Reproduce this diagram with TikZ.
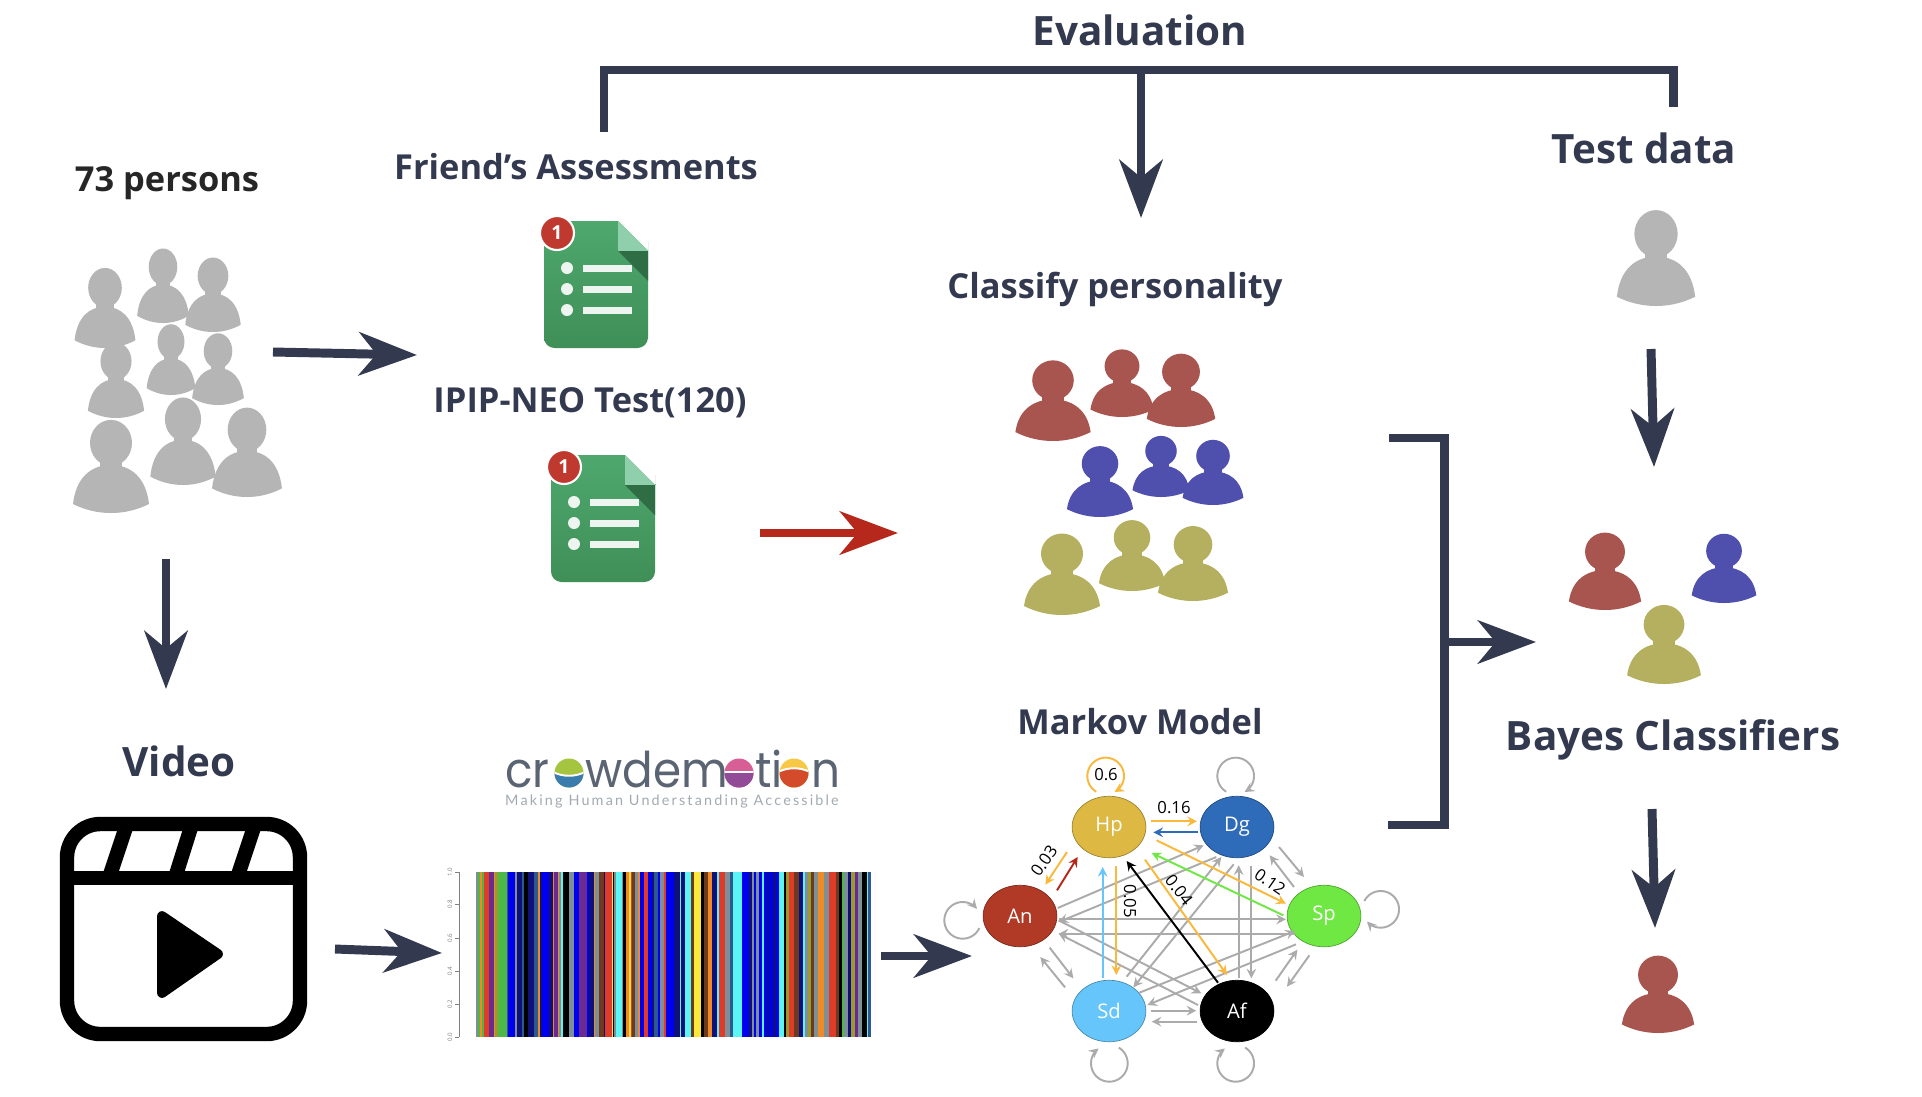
\documentclass[tikz,border=0pt]{standalone}
\usepackage{fontspec}
\setmainfont{Open Sans}
\newfontfamily\logofont{Poppins}
\newfontfamily\tagfont[LetterSpace=15]{Lato}
\usetikzlibrary{arrows.meta, shapes.geometric, calc}
\definecolor{inkdark}{HTML}{333A50}
\definecolor{inkred}{HTML}{B5281B}
\definecolor{persongray}{HTML}{B4B5B4}
\definecolor{personred}{HTML}{A8544F}
\definecolor{personblue}{HTML}{4F50AE}
\definecolor{personolive}{HTML}{B5B060}
\definecolor{edgegray}{HTML}{ABABAB}
\definecolor{edgeorange}{HTML}{FAB93C}
\definecolor{logogray}{HTML}{5A6472}
\definecolor{stateHp}{HTML}{DDB944}
\definecolor{stateDg}{HTML}{2E6BB8}
\definecolor{stateAn}{HTML}{B03A25}
\definecolor{stateSp}{HTML}{70E843}
\definecolor{stateSd}{HTML}{66C5FA}
\definecolor{formtop}{HTML}{4EA86E}
\definecolor{formbot}{HTML}{3F8F57}
\definecolor{formfold}{HTML}{8FCFAC}
\definecolor{formshade}{HTML}{2F6E45}
\definecolor{formbar}{HTML}{EEF5F0}
\definecolor{badgered}{HTML}{C0392F}
\definecolor{ballgreen}{HTML}{A5C43F}
\definecolor{ballblue}{HTML}{3A7CAE}
\definecolor{ballpink}{HTML}{D85E96}
\definecolor{ballpurple}{HTML}{924B96}
\definecolor{ballyellow}{HTML}{F6C845}
\definecolor{ballrust}{HTML}{D34B2A}
\definecolor{bL}{HTML}{0000F0}
\definecolor{nV}{HTML}{10107A}
\definecolor{kB}{HTML}{000000}
\definecolor{rD}{HTML}{E03A28}
\definecolor{cY}{HTML}{5CF5F5}
\definecolor{yL}{HTML}{FBE83A}
\definecolor{oR}{HTML}{F08A24}
\definecolor{gN}{HTML}{4DB848}
\definecolor{gY}{HTML}{7F8F98}
\definecolor{pU}{HTML}{6A2A90}
\definecolor{bR}{HTML}{6E3A1E}
\definecolor{tL}{HTML}{2A5A90}
\definecolor{oL}{HTML}{9A9A30}
\tikzset{
  bigarrow/.style={-{Stealth[length=33pt,width=24.5pt,inset=10pt]}, inkdark, line width=5.1pt},
  bracketline/.style={inkdark, line width=5.1pt, line join=miter},
  title/.style={inkdark, font=\fontsize{19.6}{22}\selectfont\bfseries, inner sep=0pt},
  bigtitle/.style={title, font=\fontsize{23}{26}\selectfont\bfseries},
  statenode/.style={ellipse, draw=#1!70!black, fill=#1, minimum width=42pt, minimum height=35pt, inner sep=0pt,
    text=white, font=\fontsize{11.5}{13}\selectfont},
  weight/.style={black, font=\fontsize{9.5}{11}\selectfont, inner sep=0pt},
  graygo/.style={-{Stealth[length=5.5pt,width=5.5pt,inset=2pt]}, edgegray, line width=1.1pt},
  colorgo/.style={-{Stealth[length=5.5pt,width=5.5pt,inset=2pt]}, line width=1.1pt},
  clipline/.style={black, line width=8.2pt},
  logotext/.style={logogray, font=\logofont\fontsize{28}{30}\selectfont, anchor=base west, inner sep=0pt, xscale=.92},
  person/.pic={
    \fill[pic actions] (-38,-9) .. controls (-35,-#1*0.74) and (-20,-#1) .. (0,-#1)
      .. controls (20,-#1) and (35,-#1*0.74) .. (38,-9)
      .. controls (14,3) and (-14,3) .. cycle;
    \fill[pic actions] (-11,-#1-7) rectangle (11,-#1+7);
    \fill[pic actions] (0,-#1*1.46) ellipse [x radius=21, y radius=#1*0.48];
  },
  formicon/.pic={
    \shade[top color=formtop, bottom color=formbot, rounded corners=6pt]
      (0,60) -- (0,127) -- (104,127) -- (104,60) -- (104,31) [sharp corners] -- (104,30) -- (74,0) -- (0,0) [rounded corners=6pt] -- cycle;
    \fill[formfold] (74,0) -- (104,30) -- (74,30) -- cycle;
    \fill[formshade] (74,30) -- (104,30) -- (104,60) -- cycle;
    \foreach \rowy in {47,68,89} {
      \fill[formbar] (23,\rowy) circle [radius=6];
      \fill[formbar] (39,\rowy-3.5) rectangle (88,\rowy+3.5);
    }
    \filldraw[white, line width=1.2pt, fill=badgered] (13,12) circle [radius=17];
    \node[white, font=\fontsize{11}{12}\selectfont\bfseries, inner sep=0pt] at (13,12) {1};
  }
}
\newcommand{\logoball}[4]{%
  \begin{scope}
    \clip (#1,773) circle [radius=14.5];
    \fill[#2] (#1-16,757) rectangle (#1+16,789);
    \fill[#3] (#1-16,772) .. controls (#1-6,772-#4) and (#1+6,772-#4) .. (#1+16,772) -- (#1+16,789) -- (#1-16,789) -- cycle;
    \draw[white, line width=1.1pt] (#1-16,772) .. controls (#1-6,772-#4) and (#1+6,772-#4) .. (#1+16,772);
  \end{scope}}
\begin{document}
\begin{tikzpicture}[x=0.02cm, y=-0.02cm]
\useasboundingbox (0,0) rectangle (1922,1096);
\fill[white] (0,0) rectangle (1922,1096);

\node[bigtitle] (evaltitle) at (1140,30) {Evaluation};
\node[title, text=black!85] (crowdtitle) at (167,183) {73 persons};
\node[title] (friendtitle) at (576,167) {Friend’s Assessments};
\node[title] (ipiptitle) at (590,403) {IPIP-NEO Test(120)};
\node[bigtitle] (testtitle) at (1644,148) {Test data};
\node[title] (classifytitle) at (1115,289) {Classify personality};
\node[bigtitle] (videotitle) at (179,761) {Video};
\node[title] (markovtitle) at (1140,722) {Markov Model};
\node[bigtitle] (bayestitle) at (1673,740) {Bayes Classifiers};

\foreach \px/\py/\sx/\sy in {105/348/.8/.86, 163/323/.68/.8, 213/332/.73/.8, 116/418/.74/.81, 171/395/.64/.76,
  218/405/.68/.77, 111/513/1/1, 183/485/.86/.94, 247/497/.92/.96, 1656/306/1.03/1.03}
  \pic[fill=persongray, xscale=\sx, yscale=\sy] at (\px,\py) {person=48};

\foreach \px/\py/\ps/\pc in {1053/441/.99/personred, 1122/417/.83/personred, 1181/427/.9/personred,
  1100/517/.87/personblue, 1161/497/.75/personblue, 1213/505/.8/personblue,
  1062/615/1/personolive, 1132/591/.87/personolive, 1193/601/.92/personolive,
  1605/610/.95/personred, 1724/603/.85/personblue, 1664/684/.97/personolive, 1658/1033/.95/personred}
  \pic[fill=\pc, scale=\ps] at (\px,\py) {person=42};

\pic at (544,221) {formicon};
\pic at (551,455) {formicon};

\draw[black, line width=8.2pt, rounded corners=19pt] (67,824) rectangle (300,1034);
\draw[clipline] (67,878) -- (300,878);
\draw[clipline] (109,878) -- (127,824);
\draw[clipline] (175,878) -- (192,824);
\draw[clipline] (237,878) -- (255,824);
\filldraw[black, line width=5.6pt, line join=round] (162,916) -- (162,993) -- (218,954) -- cycle;

\node[logotext] (logocr) at (505,787) {cr};
\node[logotext] (logowdem) at (585,787) {wdem};
\node[logotext] (logoti) at (755,787) {ti};
\node[logotext] (logon) at (811,787) {n};
\logoball{569}{ballgreen}{ballblue}{-5}
\logoball{739}{ballpink}{ballpurple}{0}
\logoball{794}{ballyellow}{ballrust}{5}
\node[text=logogray!55, font=\tagfont\fontsize{8.2}{10}\selectfont, inner sep=0pt] (logotag) at (672,801) {Making Human Understanding Accessible};

\foreach \c/\w [remember=\xb as \xa (initially 476), evaluate=\w as \xb using \xa+\w/3] in {
  gY/6, gN/6, oR/6, gN/6, rD/16, pU/14, oR/4, oL/8, gN/26, tL/4, bL/22, gY/6, nV/14, tL/5, kB/13, nV/17,
  tL/12, oR/8, nV/5, bL/22, nV/11, oR/2, pU/13, oR/4, gY/6, cY/4, kB/18, gY/15, bL/17, pU/23, bL/5, nV/15,
  oR/5, gY/10, bR/15, nV/5, rD/20, yL/3, kB/4, gY/6, cY/17, gY/3, kB/10, oR/8, yL/6, rD/4, bR/8, gY/8,
  oR/6, bL/12, rD/12, bL/13, nV/7, tL/10, bL/8, gY/12, rD/6, bL/24, nV/16, cY/4, nV/13, cY/17, bR/10, yL/20,
  kB/10, bR/10, oR/12, nV/16, cY/5, rD/20, gY/13, tL/10, cY/27, bL/22, nV/7, gY/8, bL/6, gY/8, bL/8, cY/6,
  bL/10, nV/7, bL/10, nV/10, bL/10, cY/13, kB/7, oL/10, rD/15, bR/15, nV/10, cY/8, gY/7, oL/10, bR/10,
  gY/12, oR/16, gY/17, rD/20, bR/10, kB/7, gN/8, gY/12, nV/8, oL/12, pU/10, gY/10, kB/16, cY/4, tL/8}
  \fill[\c] (\xa,872) rectangle (\xb+.3,1037);
\draw[gray, line width=.3pt] (459,872) -- (459,1037);
\foreach \ty/\tl in {872/1.0, 904/0.8, 938/0.6, 971/0.4, 1004/0.2, 1037/0.0} {
  \draw[gray, line width=.3pt] (455,\ty) -- (459,\ty);
  \node[gray, rotate=90, font=\fontsize{3.5}{4}\selectfont, inner sep=0pt] at (450,\ty) {\tl};
}

\node[statenode=stateHp] (Hp) at (1109,827) {Hp};
\node[statenode=stateDg] (Dg) at (1237,827) {Dg};
\node[statenode=stateAn] (An) at (1020,916) {An};
\node[statenode=stateSp] (Sp) at (1324,916) {Sp};
\node[statenode=stateSd] (Sd) at (1109,1011) {Sd};
\node[statenode=black] (Af) at (1237,1011) {Af};

\begin{scope}[x=0.00667cm, y=-0.00667cm]
\foreach \a/\ax/\ay/\b/\bx/\by in {An/113/-24/Dg/-100/55, Dg/-62/90/An/116/18, An/116/10/Sp/-114/10, Sp/-87/53/An/116/53,
  An/116/13/Af/-107/-53, Af/-117/-18/An/116/53, An/89/95/Sd/-107/-98, Sd/-132/-71/An/61/123,
  Dg/126/60/Sp/-60/-117, Sp/-90/-87/Dg/98/85, Dg/-10/112/Sd/73/-71, Sd/53/-103/Dg/-47/90,
  Dg/43/116/Af/43/-98, Af/5/-98/Dg/5/115, Sp/-44/118/Af/150/-73, Af/116/-91/Sp/-80/101,
  Sd/91/-55/Sp/-87/45, Sp/-84/85/Sd/115/-18, Sd/125/-1/Af/-122/-1, Af/-119/32/Sd/128/32}
  \draw[graygo] ([shift={(\ax,\ay)}]\a.center) -- ([shift={(\bx,\by)}]\b.center);
\foreach \a/\ax/\ay/\b/\bx/\by/\c in {Hp/125/-17/Dg/-120/-17/edgeorange, Dg/-116/16/Hp/133/16/stateDg,
  Hp/-126/75/An/76/-94/edgeorange, An/111/-77/Hp/-94/90/inkred,
  Hp/143/40/Sp/-114/-37/edgeorange, Sp/-122/-2/Hp/128/78/stateSp,
  Hp/22/116/Sd/22/-108/edgeorange, Sd/-19/-99/Hp/-19/120/stateSd,
  Hp/108/98/Af/-30/-108/edgeorange, Af/-57/-85/Hp/53/102/black}
  \draw[colorgo, draw=\c] ([shift={(\ax,\ay)}]\a.center) -- ([shift={(\bx,\by)}]\b.center);
\foreach \a/\lx/\ly/\st/\en/\c in {Hp/-10/-153/121/421/edgeorange, Dg/-4/-153/121/421/edgegray, Sd/1/157/-59/234/edgegray,
  Af/-4/157/-59/234/edgegray, An/-172/13/25/321/edgegray, Sp/170/-20/207/498/edgegray}
  \draw[colorgo, draw=\c, shift={(\a.center)}, domain=\st:\en, samples=60] plot ({\lx+55*cos(\x)}, {\ly+55*sin(\x)});
\end{scope}

\node[weight] (wHpHp) at (1106,775) {0.6};
\node[weight] (wHpDg) at (1174,808) {0.16};
\node[weight, rotate=55] (wHpAn) at (1044,861) {0.03};
\node[weight, rotate=-90] (wHpSd) at (1130,901) {0.05};
\node[weight, rotate=-52] (wHpAf) at (1179,890) {0.04};
\node[weight, rotate=-35] (wHpSp) at (1270,882) {0.12};

\coordinate (crowdout) at (273,352);
\coordinate (formin) at (417,355);
\coordinate (formout) at (760,533);
\coordinate (classifyin) at (898,533);
\coordinate (crowddown) at (166,559);
\coordinate (clipin) at (166,689);
\coordinate (clipout) at (335,949);
\coordinate (barin) at (442,953);
\coordinate (barout) at (881,956);
\coordinate (statein) at (972,956);
\coordinate (evalleft) at (604,132);
\coordinate (evalcorner) at (604,70);
\coordinate (evalfar) at (1673,70);
\coordinate (evalright) at (1673,107);
\coordinate (evalmid) at (1141,70);
\coordinate (classifytop) at (1141,218);
\coordinate (testout) at (1651,349);
\coordinate (bayesin) at (1654,467);
\coordinate (joina) at (1389,438);
\coordinate (joinb) at (1444,438);
\coordinate (joinc) at (1444,825);
\coordinate (joind) at (1388,825);
\coordinate (joinmid) at (1444,642);
\coordinate (bayesleft) at (1536,642);
\coordinate (bayesout) at (1652,809);
\coordinate (resultin) at (1655,928);

\draw[bigarrow] (crowdout) -- (formin);
\draw[bigarrow, inkred] (formout) -- (classifyin);
\draw[bigarrow] (crowddown) -- (clipin);
\draw[bigarrow] (clipout) -- (barin);
\draw[bigarrow] (barout) -- (statein);
\draw[bracketline] (evalleft) -- (evalcorner) -- (evalfar) -- (evalright);
\draw[bigarrow] (evalmid) -- (classifytop);
\draw[bigarrow] (testout) -- (bayesin);
\draw[bracketline] (joina) -- (joinb) -- (joinc) -- (joind);
\draw[bigarrow] (joinmid) -- (bayesleft);
\draw[bigarrow] (bayesout) -- (resultin);
\end{tikzpicture}
\end{document}
